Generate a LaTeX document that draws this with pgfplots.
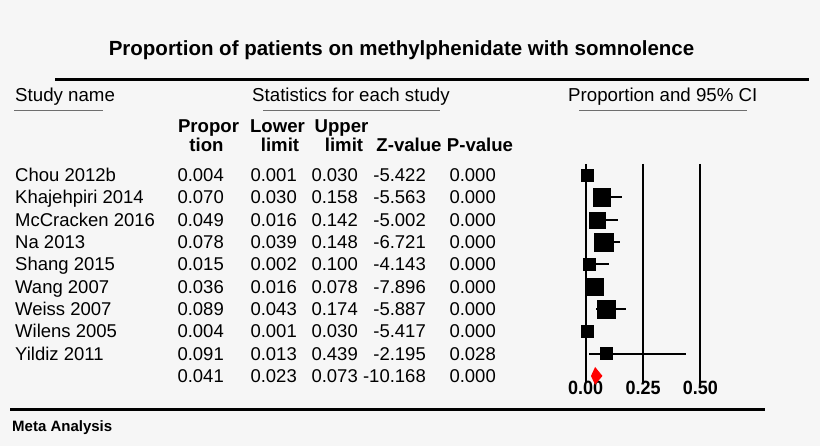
\documentclass[border=0pt]{standalone}
\usepackage{pgfplots}
\pgfplotsset{compat=1.18}
\usepackage{pgfplotstable}
\usepackage{graphicx}
\usepackage{fontspec}
\setmainfont{Liberation Sans}

\definecolor{bg}{HTML}{F6F6F6}
\definecolor{rulegray}{HTML}{6E6E6E}
\definecolor{pooled}{HTML}{FF0000}

% row, proportion, lower, upper, square side (bp)
\pgfplotstableread{
row p     lo    hi    w
1   0.004 0.001 0.030 12
2   0.070 0.030 0.158 17.5
3   0.049 0.016 0.142 16
4   0.078 0.039 0.148 18.5
5   0.015 0.002 0.100 12
6   0.036 0.016 0.078 17.5
7   0.089 0.043 0.174 18.5
8   0.004 0.001 0.030 12
9   0.091 0.013 0.439 12
}\studies

\newcommand{\rowfont}{\fontsize{18.5bp}{22bp}\selectfont}
\newcommand{\hdfont}{\fontsize{18.6bp}{22bp}\selectfont\bfseries}
% condensed bold scale labels, sized to the reference
\newcommand{\tk}[1]{\resizebox{35bp}{13.4bp}{\bfseries #1}}

% baseline, name, proportion, lower, upper, z, p
\newcommand{\studyrow}[7]{%
  \node[anchor=base west] at (15,#1) {\rowfont #2};
  \node[anchor=base east] at (224,#1) {\rowfont #3};
  \node[anchor=base east] at (297,#1) {\rowfont #4};
  \node[anchor=base east] at (358,#1) {\rowfont #5};
  \node[anchor=base east] at (426,#1) {\rowfont #6};
  \node[anchor=base east] at (496,#1) {\rowfont #7};
}

\begin{document}
\begin{tikzpicture}[every node/.style={inner sep=0pt}]
% page coordinates: 1 unit = 1bp, measured from the top-left corner
\begin{scope}[x=1bp, y=-1bp, yshift=446bp]
\fill[bg] (0,0) rectangle (820,446);
\path[use as bounding box] (0,0) rectangle (820,446);

\node[anchor=base] at (401.5,56) {\fontsize{20.5bp}{24bp}\selectfont\bfseries Proportion of patients on methylphenidate with somnolence};
\draw[line width=3bp] (55,80) -- (809,80);

\node[anchor=base west] at (15,102) {\fontsize{18.7bp}{22bp}\selectfont Study name};
\node[anchor=base west] at (252,102) {\fontsize{18.7bp}{22bp}\selectfont Statistics for each study};
\node[anchor=base west] at (568,102) {\fontsize{18.7bp}{22bp}\selectfont Proportion and 95\% CI};
\draw[rulegray, line width=1.3bp] (14,110.7) -- (103,110.7);
\draw[rulegray, line width=1.3bp] (263,110.7) -- (440,110.7);
\draw[rulegray, line width=1.3bp] (579,110.7) -- (747,110.7);

\node[anchor=base] at (208.5,133) {\hdfont Propor};
\node[anchor=base] at (206.5,152) {\hdfont tion};
\node[anchor=base] at (277.5,133) {\hdfont Lower};
\node[anchor=base] at (280,152) {\hdfont limit};
\node[anchor=base] at (341.5,133) {\hdfont Upper};
\node[anchor=base] at (344,152) {\hdfont limit};
\node[anchor=base] at (409,152) {\hdfont Z-value};
\node[anchor=base] at (480,152) {\hdfont P-value};

\studyrow{181.7}{Chou 2012b}{0.004}{0.001}{0.030}{-5.422}{0.000}
\studyrow{204.0}{Khajehpiri 2014}{0.070}{0.030}{0.158}{-5.563}{0.000}
\studyrow{226.4}{McCracken 2016}{0.049}{0.016}{0.142}{-5.002}{0.000}
\studyrow{248.7}{Na 2013}{0.078}{0.039}{0.148}{-6.721}{0.000}
\studyrow{271.0}{Shang 2015}{0.015}{0.002}{0.100}{-4.143}{0.000}
\studyrow{293.4}{Wang 2007}{0.036}{0.016}{0.078}{-7.896}{0.000}
\studyrow{315.7}{Weiss 2007}{0.089}{0.043}{0.174}{-5.887}{0.000}
\studyrow{338.0}{Wilens 2005}{0.004}{0.001}{0.030}{-5.417}{0.000}
\studyrow{360.3}{Yildiz 2011}{0.091}{0.013}{0.439}{-2.195}{0.028}
\studyrow{382.7}{}{0.041}{0.023}{0.073}{-10.168}{0.000}

% scale labels under the forest plot
\node[anchor=base] at (585.7,395) {\tk{0.00}};
\node[anchor=base] at (643,395) {\tk{0.25}};
\node[anchor=base] at (700.3,395) {\tk{0.50}};

\draw[line width=3bp] (10,410) -- (765,410);
\node[anchor=base west] at (12,432) {\fontsize{15bp}{18bp}\selectfont\bfseries Meta Analysis};
\end{scope}

\begin{axis}[
  at={(585.7bp,282.2bp)}, anchor=north west,
  scale only axis, width=114.5bp, height=217.7bp,
  xmin=0, xmax=0.5, ymin=0.5, ymax=10.25, y dir=reverse,
  axis line style={draw=none}, major tick length=0pt,
  xtick={0,0.25,0.5}, xticklabels={},
  ytick=\empty,
  xmajorgrids, major grid style={black, line width=2bp},
  clip=false,
]
\addplot[scatter, only marks, mark=square*,
  scatter/use mapped color={draw=black, fill=black},
  mark options={line width=0.2bp},
  visualization depends on={\thisrow{w}/2 \as \halfside},
  scatter/@pre marker code/.append style={/tikz/mark size=\halfside bp},
  error bars/.cd, x dir=both, x explicit, error mark=none,
  error bar style={black, line width=2bp}]
  table[x=p, y=row,
    x error plus expr=\thisrow{hi}-\thisrow{p},
    x error minus expr=\thisrow{p}-\thisrow{lo}] {\studies};
\addplot[fill=pooled, draw=none] coordinates {
  (0.023,10) (0.041,9.6) (0.073,10) (0.041,10.4)} -- cycle;
\end{axis}
\end{tikzpicture}
\end{document}
